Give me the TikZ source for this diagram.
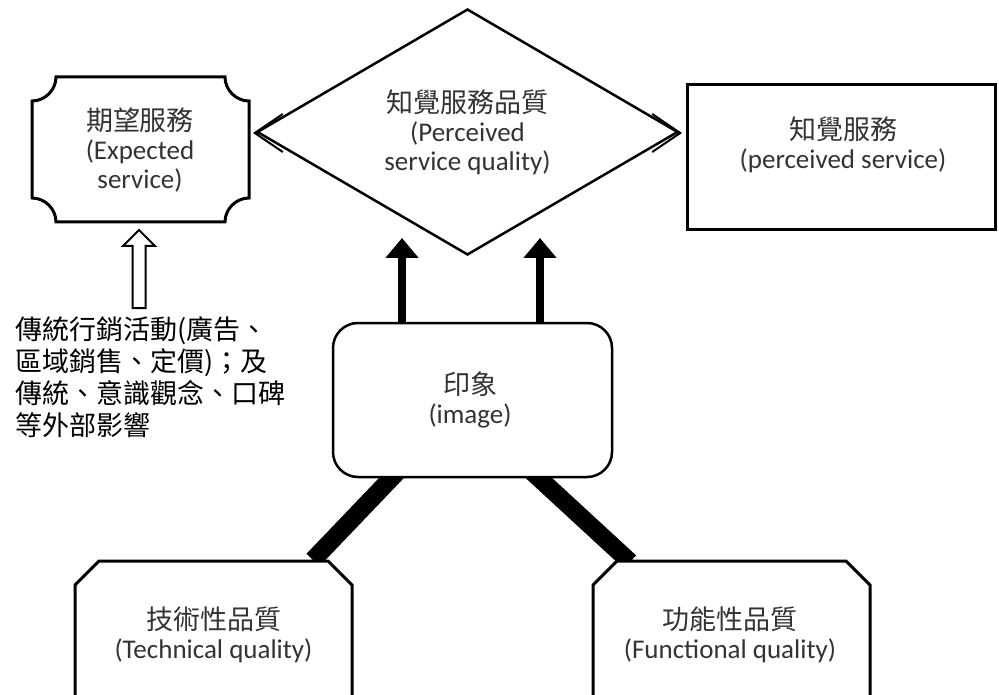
\documentclass[tikz,border=0pt]{standalone}
\usepackage{fontspec}
\setmainfont{Carlito}
\newfontfamily\cjk{Noto Sans CJK TC}
\usetikzlibrary{arrows.meta,shapes.geometric,calc}
\begin{document}
\begin{tikzpicture}[x=1pt,y=-1pt,
  lbl/.style={align=center, font=\fontsize{27}{29}\selectfont, text=black!80, inner sep=0pt},
  boxline/.style={draw=black, line width=3pt, fill=white, line join=miter},
  thickbar/.style={line width=18pt, black},
  uparrow/.style={line width=8pt, -{Triangle[length=20pt,width=32pt]}},
  dblarrow/.style={line width=2pt, {Straight Barb[length=28pt,width=38pt]}-{Straight Barb[length=28pt,width=38pt]}},
]
\useasboundingbox (0,0) rectangle (999,695);
\clip (0,0) rectangle (999,695);
\fill[white] (0,0) rectangle (999,695);

% ---------- double arrow (mostly hidden by the diamond)
\coordinate (aL) at (253,133);
\coordinate (aR) at (682,133);
\draw[dblarrow] (aL) -- (aR);

% ---------- expected service (concave corners)
\draw[boxline] (32,101) .. controls (45,101) and (56,90) .. (56,77)
  -- (225,77) .. controls (225,90) and (236,101) .. (249,101)
  -- (249,198) .. controls (236,198) and (225,209) .. (225,222)
  -- (56,222) .. controls (56,209) and (45,198) .. (32,198) -- cycle;
\node[lbl] (exp) at (140,150) {{\cjk 期望服務}\\(Expected\\service)};

% ---------- perceived service quality (diamond)
\node[diamond, draw=black, line width=2.5pt, fill=white, shape aspect=1.7,
      minimum width=421pt, minimum height=246pt, inner sep=0pt,
      align=center, font=\fontsize{27}{29}\selectfont, text=black!80] (pq) at (467.5,132)
      {{\cjk 知覺服務品質}\\(Perceived\\service quality)};

% ---------- perceived service (rectangle)
\node[boxline, minimum width=308pt, minimum height=145pt, inner sep=0pt] (ps) at (841,157.5) {};
\node[lbl] (pst) at (843,145) {{\cjk 知覺服務}\\(perceived service)};

% ---------- hollow arrow and external influences
\node[anchor=north west, align=left, inner sep=0pt, text=black,
      font=\cjk\fontsize{27}{32}\selectfont] (ext) at (15,317)
      {傳統行銷活動(廣告、\\區域銷售、定價)；及\\傳統、意識觀念、口碑\\等外部影響};
\draw[line width=2pt, fill=white, line join=miter]
  (139,230) -- (155,246) -- (145.5,246) -- (145.5,308) -- (132.5,308)
  -- (132.5,246) -- (123,246) -- cycle;

% ---------- thick bars to bottom boxes (behind boxes)
\coordinate (b1s) at (401,468);
\coordinate (b1e) at (313,560);
\coordinate (b2s) at (528,468);
\coordinate (b2e) at (630,562);
\draw[thickbar] (b1s) -- (b1e);
\draw[thickbar] (b2s) -- (b2e);

% ---------- image (rounded box)
\node[boxline, line width=2.5pt, rounded corners=25pt, minimum width=279pt, minimum height=154pt,
      inner sep=0pt] (img) at (472.5,400) {};
\node[lbl] (imgt) at (470,400) {{\cjk 印象}\\(image)};

% ---------- thick up arrows
\coordinate (u1) at (402,238);
\coordinate (u2) at (540,238);
\draw[uparrow] (img.north -| u1) -- (u1);
\draw[uparrow] (img.north -| u2) -- (u2);

% ---------- technical quality
\draw[boxline] (75,585) -- (99,561) -- (328,561) -- (352,585) -- (352,720) -- (75,720) -- cycle;
\node[lbl] (tq) at (213.5,635) {{\cjk 技術性品質}\\(Technical quality)};

% ---------- functional quality
\draw[boxline] (593,585) -- (617,561) -- (846,561) -- (870,585) -- (870,720) -- (593,720) -- cycle;
\node[lbl] (fq) at (730,635) {{\cjk 功能性品質}\\(Functional quality)};
\end{tikzpicture}
\end{document}
